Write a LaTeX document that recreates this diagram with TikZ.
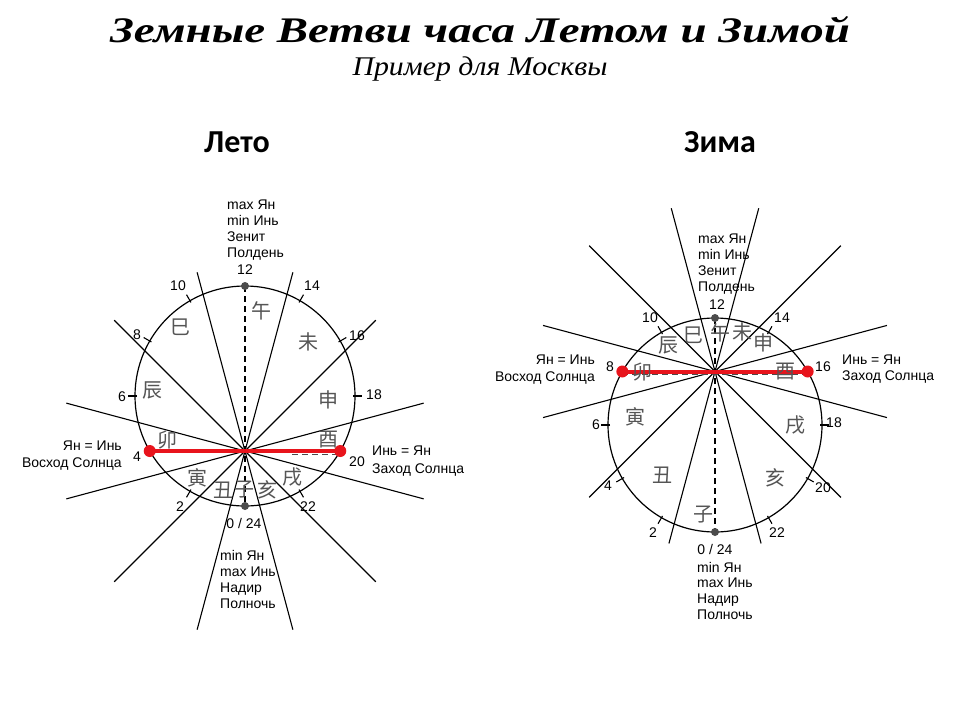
\documentclass[tikz,border=0pt]{standalone}
\usepackage{fontspec}
\usepackage{graphicx}
\setmainfont{Liberation Sans}
\newfontfamily\cjk{Noto Sans CJK SC}
\newfontfamily\titlefont{Liberation Serif}
\newfontfamily\subfont{Liberation Serif}
\newfontfamily\headfont{Carlito}
\usetikzlibrary{calc}
\definecolor{sunred}{RGB}{232,20,28}
\definecolor{dotgray}{RGB}{75,75,75}
\definecolor{hangray}{RGB}{85,85,85}
\begin{document}
\begin{tikzpicture}[x=1pt,y=-1pt,
  lbl/.style={font=\fontsize{14}{16}\selectfont, inner sep=0pt},
  han/.style={font=\cjk\fontsize{20}{20}\selectfont, text=hangray, inner sep=0pt},
  ray/.style={line width=1.1pt, black},
  rim/.style={line width=1.2pt, black},
  axisdash/.style={line width=1.2pt, dash pattern=on 6pt off 4pt},
  underdash/.style={line width=0.9pt, dotgray, dash pattern=on 6pt off 4pt},
  hdot/.style={circle, fill=dotgray, minimum size=8pt, inner sep=0pt},
  rdot/.style={circle, fill=sunred, minimum size=12pt, inner sep=0pt},
  sunline/.style={line width=4pt, sunred},
  tickmark/.style={line width=1.1pt},
  head/.style={font=\headfont\bfseries\fontsize{32}{32}\selectfont, inner sep=0pt, anchor=base}]

\useasboundingbox (0,0) rectangle (960,720);

% ---------- titles ----------
\node[anchor=base, inner sep=0pt] (title) at (480,42)
  {\resizebox{740pt}{\height}{\titlefont\bfseries\itshape\fontsize{36}{36}\selectfont Земные Ветви часа Летом и Зимой}};
\node[anchor=base, inner sep=0pt] (subtitle) at (480,75)
  {\resizebox{255pt}{\height}{\subfont\itshape\fontsize{27}{27}\selectfont Пример для Москвы}};
\node[head] (summer) at (237,152) {Лето};
\node[head] (winter) at (720,152) {Зима};

% =========== SUMMER ===========
\coordinate (C1) at (245,396);
\coordinate (P1) at (245,451);
\foreach \a in {15,45,75,105,135,165}{
  \coordinate (La\a) at ($(P1)+(\a:185)$);
  \coordinate (Lb\a) at ($(P1)+(\a+180:185)$);
  \draw[ray] (La\a) -- (Lb\a);
}
\draw[rim] (C1) circle[radius=110];
\foreach \h in {2,6,8,10,14,16,18,22}{
  \coordinate (Lti\h) at ($(C1)+({-108*sin(15*\h)},{108*cos(15*\h)})$);
  \coordinate (Lto\h) at ($(C1)+({-117*sin(15*\h)},{117*cos(15*\h)})$);
  \draw[tickmark] (Lti\h) -- (Lto\h);
}
\coordinate (T1) at ($(C1)+(0,-110)$);
\coordinate (B1) at ($(C1)+(0,110)$);
\draw[axisdash] (T1) -- (B1);
\coordinate (SR1) at ($(C1)+({-110*sin(60)},{110*cos(60)})$);
\coordinate (SS1) at ($(C1)+({110*sin(60)},{110*cos(60)})$);
\coordinate (UD1) at (292,454);
\draw[underdash] (UD1) -- ($(SS1)+(0,3)$);
\draw[sunline] (SR1) -- (SS1);
\node[hdot] (dotT1) at (T1) {};
\node[hdot] (dotB1) at (B1) {};
\node[rdot] (dotSR1) at (SR1) {};
\node[rdot] (dotSS1) at (SS1) {};

% hour numbers
\node[lbl] (h12a) at (245,270) {12};
\node[lbl] (h10a) at (178,286) {10};
\node[lbl] (h14a) at (312,286) {14};
\node[lbl] (h8a)  at (137,335) {8};
\node[lbl] (h16a) at (357,336) {16};
\node[lbl] (h6a)  at (122,397) {6};
\node[lbl] (h18a) at (374,395) {18};
\node[lbl] (h4a)  at (137,457) {4};
\node[lbl] (h20a) at (357,462) {20};
\node[lbl] (h2a)  at (180,507) {2};
\node[lbl] (h22a) at (308,507) {22};
\node[lbl] (h0a)  at (244,523) {0 / 24};

% text blocks
\node[lbl, anchor=base west] (zt1) at (227,209) {max Ян};
\node[lbl, anchor=base west] (zt2) at (227,225) {min Инь};
\node[lbl, anchor=base west] (zt3) at (227,241) {Зенит};
\node[lbl, anchor=base west] (zt4) at (227,257) {Полдень};
\node[lbl, anchor=base west] (nb1) at (220,560) {min Ян};
\node[lbl, anchor=base west] (nb2) at (220,576) {max Инь};
\node[lbl, anchor=base west] (nb3) at (220,592) {Надир};
\node[lbl, anchor=base west] (nb4) at (220,608) {Полночь};
\node[lbl, anchor=base east] (sr1a) at (122,450) {Ян = Инь};
\node[lbl, anchor=base east] (sr1b) at (122,467) {Восход Солнца};
\node[lbl, anchor=base west] (ss1a) at (372,455) {Инь = Ян};
\node[lbl, anchor=base west] (ss1b) at (372,473) {Заход Солнца};

% branches
\node[han] (wu1)   at (261,311) {午};
\node[han] (si1)   at (180,327) {巳};
\node[han] (wei1)  at (308,342) {未};
\node[han] (chen1) at (152,390) {辰};
\node[han] (shen1) at (328,400) {申};
\node[han] (mao1)  at (167,440) {卯};
\node[han] (you1)  at (328,440) {酉};
\node[han] (yin1)  at (197,478) {寅};
\node[han] (xu1)   at (292,477) {戌};
\node[han] (chou1) at (223,490) {丑};
\node[han] (zi1)   at (244,490) {子};
\node[han] (hai1)  at (267,490) {亥};

% =========== WINTER ===========
\coordinate (C2) at (715,425);
\coordinate (P2) at (715,371.5);
\foreach \a/\l in {15/178,45/178,75/169,105/169,135/178,165/178}{
  \coordinate (Ra\a) at ($(P2)+(\a:178)$);
  \coordinate (Rb\a) at ($(P2)+(\a+180:\l)$);
  \draw[ray] (Ra\a) -- (Rb\a);
}
\draw[rim] (C2) circle[radius=107];
\foreach \h in {2,4,6,10,14,18,20,22}{
  \coordinate (Rti\h) at ($(C2)+({-105*sin(15*\h)},{105*cos(15*\h)})$);
  \coordinate (Rto\h) at ($(C2)+({-114*sin(15*\h)},{114*cos(15*\h)})$);
  \draw[tickmark] (Rti\h) -- (Rto\h);
}
\coordinate (T2) at ($(C2)+(0,-107)$);
\coordinate (B2) at ($(C2)+(0,107)$);
\draw[axisdash] (T2) -- (B2);
\coordinate (SR2) at ($(C2)+({-107*sin(120)},{107*cos(120)})$);
\coordinate (SS2) at ($(C2)+({107*sin(120)},{107*cos(120)})$);
\draw[underdash] ($(SR2)+(0,3)$) -- ($(SS2)+(0,3)$);
\draw[sunline] (SR2) -- (SS2);
\node[hdot] (dotT2) at (T2) {};
\node[hdot] (dotB2) at (B2) {};
\node[rdot] (dotSR2) at (SR2) {};
\node[rdot] (dotSS2) at (SS2) {};

\node[lbl] (h12b) at (717,305) {12};
\node[lbl] (h10b) at (650,318) {10};
\node[lbl] (h14b) at (782,318) {14};
\node[lbl] (h8b)  at (610,367) {8};
\node[lbl] (h16b) at (823,367) {16};
\node[lbl] (h6b)  at (596,425) {6};
\node[lbl] (h18b) at (834,423) {18};
\node[lbl] (h4b)  at (608,486) {4};
\node[lbl] (h20b) at (823,488) {20};
\node[lbl] (h2b)  at (653,533) {2};
\node[lbl] (h22b) at (777,533) {22};
\node[lbl] (h0b)  at (715,549) {0 / 24};

\node[lbl, anchor=base west] (zw1) at (698,243) {max Ян};
\node[lbl, anchor=base west] (zw2) at (698,259) {min Инь};
\node[lbl, anchor=base west] (zw3) at (698,275) {Зенит};
\node[lbl, anchor=base west] (zw4) at (698,291) {Полдень};
\node[lbl, anchor=base west] (nw1) at (697,572) {min Ян};
\node[lbl, anchor=base west] (nw2) at (697,587) {max Инь};
\node[lbl, anchor=base west] (nw3) at (697,603) {Надир};
\node[lbl, anchor=base west] (nw4) at (697,619) {Полночь};
\node[lbl, anchor=base east] (sr2a) at (595,364) {Ян = Инь};
\node[lbl, anchor=base east] (sr2b) at (595,381) {Восход Солнца};
\node[lbl, anchor=base west] (ss2a) at (842,364) {Инь = Ян};
\node[lbl, anchor=base west] (ss2b) at (842,380) {Заход Солнца};

\node[han] (chen2) at (668,345) {辰};
\node[han] (si2)   at (693,335) {巳};
\node[han] (wu2)   at (720,333) {午};
\node[han] (wei2)  at (742,332) {未};
\node[han] (shen2) at (763,343) {申};
\node[han] (mao2)  at (642,372) {卯};
\node[han] (you2)  at (785,372) {酉};
\node[han] (yin2)  at (635,417) {寅};
\node[han] (xu2)   at (795,425) {戌};
\node[han] (chou2) at (662,475) {丑};
\node[han] (hai2)  at (775,478) {亥};
\node[han] (zi2)   at (703,515) {子};
\end{tikzpicture}
\end{document}
